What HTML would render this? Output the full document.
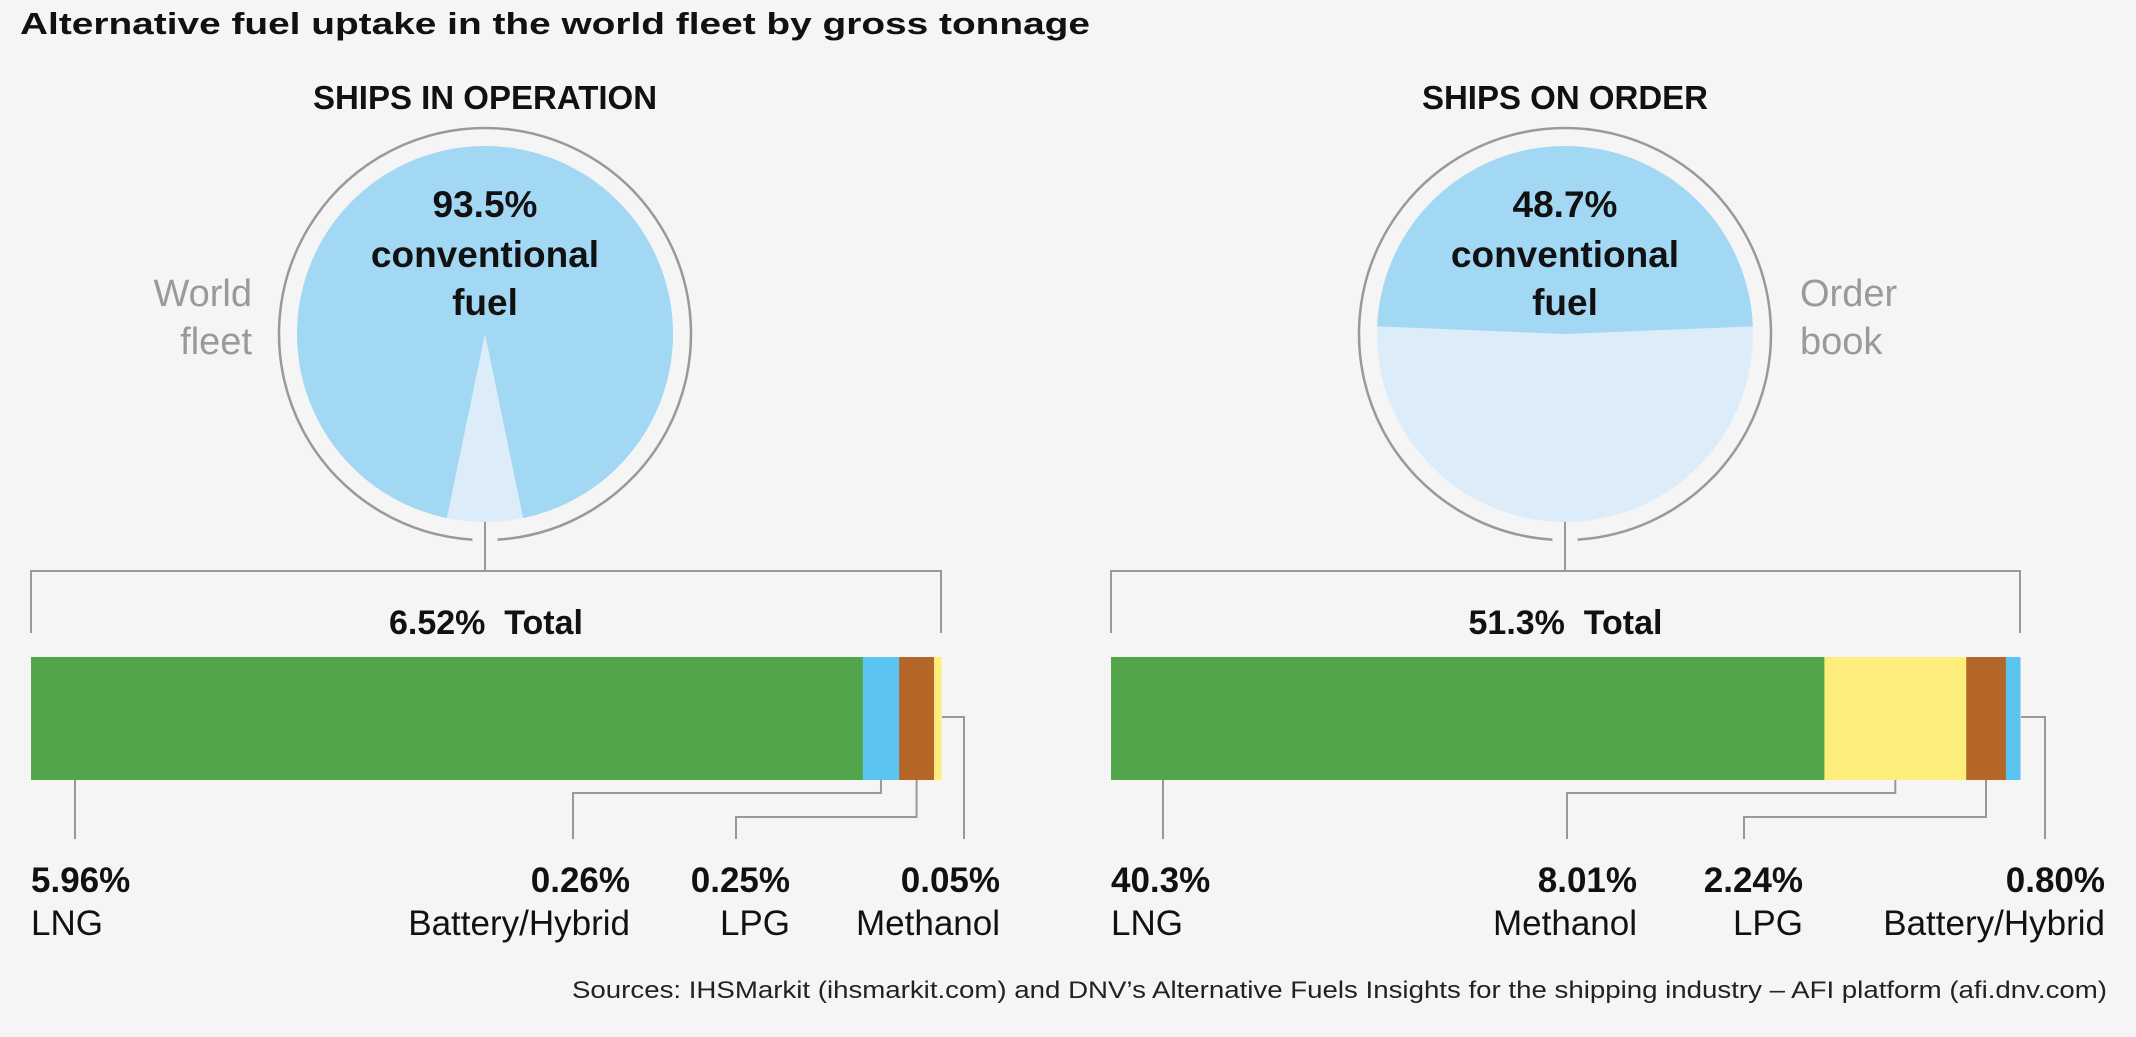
<!DOCTYPE html>
<html><head><meta charset="utf-8"><style>
html,body{margin:0;padding:0;background:#f5f5f5;}
svg{display:block;font-family:"Liberation Sans",sans-serif;}
</style></head><body>
<svg id="c" width="2136" height="1037" viewBox="0 0 2136 1037">
<rect width="2136" height="1037" fill="#f5f5f5"/>
<text x="20" y="34" font-size="31" font-weight="bold" fill="#111" textLength="1070" lengthAdjust="spacingAndGlyphs">Alternative fuel uptake in the world fleet by gross tonnage</text>
<text x="2107" y="998" font-size="24" fill="#222" text-anchor="end" textLength="1535" lengthAdjust="spacingAndGlyphs">Sources: IHSMarkit (ihsmarkit.com) and DNV’s Alternative Fuels Insights for the shipping industry – AFI platform (afi.dnv.com)</text>
<g id="g"></g>
</svg>
<script>
const panelTitles = ["SHIPS IN OPERATION", "SHIPS ON ORDER"];
const conventionalPct = [93.5, 48.7];
const totalLabels = ["6.52%", "51.3%"];
const sideLabels = [["World","fleet"], ["Order","book"]];
const opFuels = ["LNG", "Battery/Hybrid", "LPG", "Methanol"];
const opValues = [5.96, 0.26, 0.25, 0.05];
const opLabels = ["5.96%", "0.26%", "0.25%", "0.05%"];
const ordFuels = ["LNG", "Methanol", "LPG", "Battery/Hybrid"];
const ordValues = [40.3, 8.01, 2.24, 0.80];
const ordLabels = ["40.3%", "8.01%", "2.24%", "0.80%"];

const colors = {"LNG":"#52a54a","Battery/Hybrid":"#5bc4f1","LPG":"#b5672a","Methanol":"#fdee7b"};
const NS = "http://www.w3.org/2000/svg";
const G = document.getElementById('g');
function el(tag, attrs, parent){ const e=document.createElementNS(NS,tag); for(const k in attrs) e.setAttribute(k,attrs[k]); (parent||G).appendChild(e); return e; }
function txt(x,y,s,size,weight,fill,anchor,parent){ const t=el('text',{x:x,y:y,'font-size':size,'font-weight':weight,fill:fill,'text-anchor':anchor},parent); t.textContent=s; return t; }

const panels = [
 {cx:485, bx0:31, bx1:941, fuels:opFuels, vals:opValues, labs:opLabels, side:'left',
  labelRight:[null,630,790,1000], leader:[[75],[881,793,573],[916,817,736],['side',964]]},
 {cx:1565, bx0:1111, bx1:2020, fuels:ordFuels, vals:ordValues, labs:ordLabels, side:'right',
  labelRight:[null,1637,1803,2105], leader:[[1163],[1892,793,1567],[1987,817,1744],['side',2045]]}
];
const cy=334, R=206, r=188, stroke="#999";

panels.forEach((p,i)=>{
  const pg = el('g',{});
  
  
  const h = txt(p.cx,109,panelTitles[i],33,'bold','#111','middle',pg);
  
  
  const gap=3.5*Math.PI/180;
  const a0=Math.PI/2+gap, a1=Math.PI/2-gap+2*Math.PI;
  const ring = el('path',{d:`M${p.cx+R*Math.cos(a0)} ${cy+R*Math.sin(a0)} A${R} ${R} 0 1 1 ${p.cx+R*Math.cos(a1)} ${cy+R*Math.sin(a1)}`,fill:'none',stroke:stroke,'stroke-width':2.5},pg);
  
  
  const conv = conventionalPct[i]/100*2*Math.PI;
  const bg = el('circle',{cx:p.cx,cy:cy,r:r,fill:'#dcedf9'},pg);
  
  
  const s0=-Math.PI/2-conv/2, s1=-Math.PI/2+conv/2;
  const large = conv>Math.PI?1:0;
  const sl = el('path',{d:`M${p.cx} ${cy} L${p.cx+r*Math.cos(s0)} ${cy+r*Math.sin(s0)} A${r} ${r} 0 ${large} 1 ${p.cx+r*Math.cos(s1)} ${cy+r*Math.sin(s1)} Z`,fill:'#a3d8f4'},pg);
  
  
  [conventionalPct[i]+'%','conventional','fuel'].forEach((s,k)=>{
    const t=txt(p.cx,[217,267,315][k],s,37,'bold','#111','middle',pg);
    
    
  });
  sideLabels[i].forEach((s,k)=>{
    const t = p.side==='left' ? txt(252,[306,354][k],s,38,'normal','#9a9a9a','end',pg) : txt(1800,[306,354][k],s,38,'normal','#9a9a9a','start',pg);
    
    
  });
  const br = el('path',{d:`M${p.cx} ${cy+r} V571 M${p.bx0} 633 V571 H${p.bx1} V633`,fill:'none',stroke:stroke,'stroke-width':2},pg);
  
  
  const tl = txt((p.bx0+p.bx1)/2,634,totalLabels[i]+'\u00a0\u00a0Total',34,'bold','#111','middle',pg);
  
  
  const total = p.vals.reduce((a,b)=>a+b,0);
  const xs = v => (p.bx1-p.bx0)*v/total;
  let x=p.bx0;
  const segs=[];
  p.vals.forEach((v,k)=>{
    const w=xs(v);
    const rc=el('rect',{x:x,y:657,width:w+0.5,height:123,fill:colors[p.fuels[k]]},pg);
    
    
    segs.push([x,x+w]); x+=w;
  });
  p.leader.forEach((L,k)=>{
    let d;
    const mid=(segs[k][0]+segs[k][1])/2;
    if(k===0) d=`M${L[0]} 780 V839`;
    else if(L[0]==='side') d=`M${p.bx1+1} 717 H${L[1]} V839`;
    else d=`M${mid} 780 V${L[1]} H${L[2]} V839`;
    const ln=el('path',{d:d,fill:'none',stroke:stroke,'stroke-width':2},pg);
    
    
    const xa = k===0 ? p.bx0 : p.labelRight[k];
    const an = k===0 ? 'start':'end';
    const a=txt(xa,892,p.labs[k],35,'bold','#111',an,pg);
    
    
    const b=txt(xa,935,p.fuels[k],35,'normal','#111',an,pg);
    
    
  });
});
</script>
</body></html>
